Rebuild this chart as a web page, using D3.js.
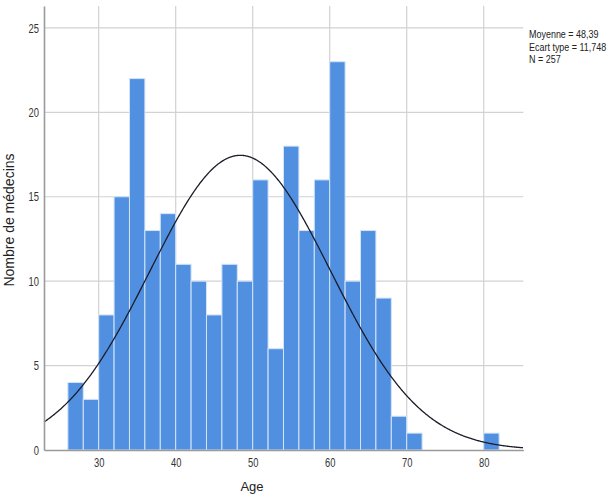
<!DOCTYPE html>
<html>
<head>
<meta charset="utf-8">
<script src="https://cdn.jsdelivr.net/npm/d3@7"></script>
<style>
  body { margin: 0; background: #fff; }
  svg { display: block; }
</style>
</head>
<body>
<div id="container"></div>
<script>
const width = 613;
const height = 497;

// Histogram bins (age, 2-year wide) and counts
const binStarts = [26, 28, 30, 32, 34, 36, 38, 40, 42, 44, 46, 48, 50, 52, 54, 56, 58, 60, 62, 64, 66, 68, 70, 80];
const counts = [4, 3, 8, 15, 22, 13, 14, 11, 10, 8, 11, 10, 16, 6, 18, 13, 16, 23, 10, 13, 9, 2, 1, 1];
const binWidth = 2;

const xTicks = [30, 40, 50, 60, 70, 80];
const yTicks = [0, 5, 10, 15, 20, 25];

// Stats shown in the legend (normal curve is drawn from these)
const meanAge = 48.39;
const sdAge = 11.748;
const nDoctors = 257;
const statLines = ["Moyenne = 48,39", "Ecart type = 11,748", "N = 257"];

const plot = { left: 44, right: 523.3, top: 6, bottom: 450 };

const svg = d3
  .select("#container")
  .append("svg")
  .attr("width", width)
  .attr("height", height);

const xScale = d3.scaleLinear().domain([22.9, 85.14]).range([plot.left, plot.right]);
const yScale = d3.scaleLinear().domain([0, 26.3]).range([plot.bottom, plot.top]);

const font = "'Liberation Sans', Arial, sans-serif";

// Grid lines
svg.append("g")
  .selectAll("line")
  .data(xTicks)
  .enter()
  .append("line")
  .attr("x1", (d) => xScale(d))
  .attr("x2", (d) => xScale(d))
  .attr("y1", plot.top)
  .attr("y2", plot.bottom)
  .attr("stroke", "#d2d2d2")
  .attr("stroke-width", 1.2);

svg.append("g")
  .selectAll("line")
  .data(yTicks.filter((d) => d > 0))
  .enter()
  .append("line")
  .attr("x1", plot.left)
  .attr("x2", plot.right)
  .attr("y1", (d) => yScale(d))
  .attr("y2", (d) => yScale(d))
  .attr("stroke", "#d2d2d2")
  .attr("stroke-width", 1.2);

// Bars
const bins = binStarts.map((s, i) => ({ start: s, count: counts[i] }));
svg.append("g")
  .selectAll("rect")
  .data(bins)
  .enter()
  .append("rect")
  .attr("x", (d) => xScale(d.start))
  .attr("width", (d) => xScale(d.start + binWidth) - xScale(d.start))
  .attr("y", (d) => yScale(d.count))
  .attr("height", (d) => yScale(0) - yScale(d.count))
  .attr("fill", "#5190e0")
  .attr("stroke", "#d3e4f8")
  .attr("stroke-width", 1);

// Normal curve
const [x0, x1] = xScale.domain();
const curvePts = d3.range(x0, x1 + 0.01, 0.1).map((x) => {
  const z = (x - meanAge) / sdAge;
  const dens = Math.exp(-0.5 * z * z) / (sdAge * Math.sqrt(2 * Math.PI));
  return [x, nDoctors * binWidth * dens];
});
svg.append("path")
  .datum(curvePts)
  .attr("fill", "none")
  .attr("stroke", "#1c1c2a")
  .attr("stroke-width", 1.3)
  .attr("d", d3.line().x((d) => xScale(d[0])).y((d) => yScale(d[1])));

// Axes
const xAxis = d3.axisBottom(xScale).tickValues(xTicks).tickSize(0).tickPadding(8);
const yAxis = d3.axisLeft(yScale).tickValues(yTicks).tickSize(0).tickPadding(5);

const gx = svg.append("g").attr("transform", `translate(0, ${plot.bottom})`).call(xAxis);
const gy = svg.append("g").attr("transform", `translate(${plot.left}, 0)`).call(yAxis);

[gx, gy].forEach((g) => {
  g.select(".domain").attr("stroke", "#9a9a9a").attr("stroke-width", 1.6);
  g.selectAll("text")
    .attr("fill", "#333")
    .style("font-family", font)
    .style("font-size", "13px")
    .attr("textLength", function () { return this.textContent.length * 5.2; })
    .attr("lengthAdjust", "spacingAndGlyphs");
});

// Axis titles
svg.append("text")
  .attr("x", 252)
  .attr("y", 491)
  .attr("text-anchor", "middle")
  .attr("fill", "#222")
  .style("font-family", font)
  .style("font-size", "13px")
  .text("Age");

svg.append("text")
  .attr("transform", "translate(14, 220) rotate(-90)")
  .attr("text-anchor", "middle")
  .attr("fill", "#222")
  .style("font-family", font)
  .style("font-size", "14px")
  .text("Nombre de médecins");

// Stats legend (condensed look via horizontal scale)
svg.append("g")
  .selectAll("text")
  .data(statLines)
  .enter()
  .append("text")
  .attr("transform", (d, i) => `translate(529, ${38 + i * 12.5}) scale(0.78, 1)`)
  .attr("fill", "#222")
  .style("font-family", font)
  .style("font-size", "11.5px")
  .text((d) => d);
</script>
</body>
</html>
